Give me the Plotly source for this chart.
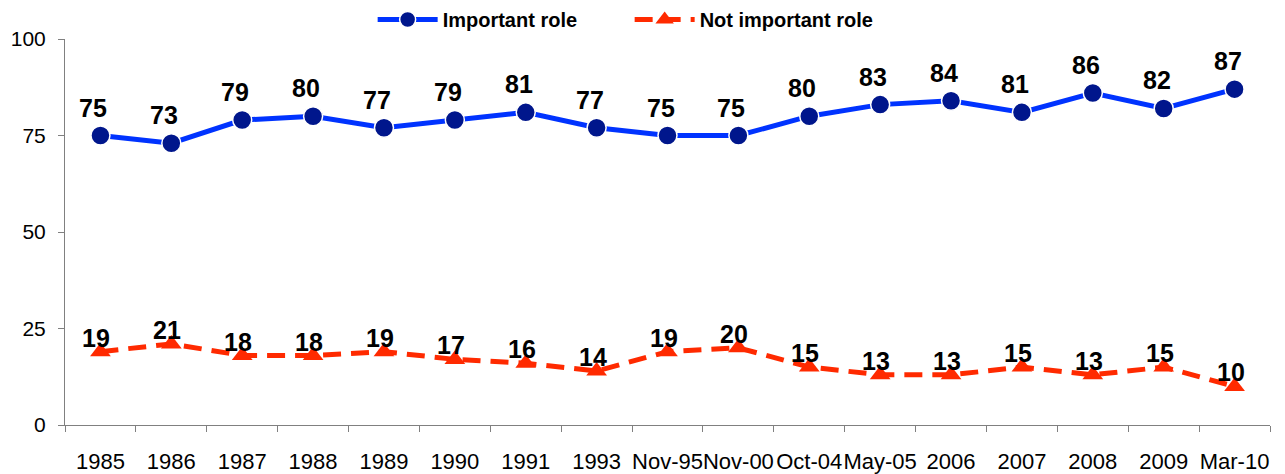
import plotly.graph_objects as go

periods = ["1985", "1986", "1987", "1988", "1989", "1990", "1991", "1993", "Nov-95",
           "Nov-00", "Oct-04", "May-05", "2006", "2007", "2008", "2009", "Mar-10"]
important = [75, 73, 79, 80, 77, 79, 81, 77, 75, 75, 80, 83, 84, 81, 86, 82, 87]
not_important = [19, 21, 18, 18, 19, 17, 16, 14, 19, 20, 15, 13, 13, 15, 13, 15, 10]

BLUE_LINE = "#0033FF"
BLUE_MARK = "#00168C"
RED = "#FF2A00"
AXIS = "#808080"
FONT = "Liberation Sans, Arial, sans-serif"
LABEL_FONT = dict(family=FONT, size=25, color="black")

fig = go.Figure()
fig.add_trace(go.Scatter(
    x=periods, y=important, name="<b>Important role</b>", mode="lines+markers",
    line=dict(color=BLUE_LINE, width=5),
    marker=dict(symbol="circle", size=19, color=BLUE_MARK, line=dict(color="white", width=1.5)),
))
fig.add_trace(go.Scatter(
    x=periods, y=not_important, name="<b>Not important role</b>", mode="lines+markers",
    line=dict(color=RED, width=5, dash="18px,10px"),
    marker=dict(symbol="triangle-up", size=18, color=RED),
))

# value labels above each point (category axis: x is the category index)
for i, v in enumerate(important):
    fig.add_annotation(x=i, y=v, text=f"<b>{v}</b>", showarrow=False,
                       xshift=-7, yshift=28, font=LABEL_FONT)
for i, v in enumerate(not_important):
    fig.add_annotation(x=i, y=v, text=f"<b>{v}</b>", showarrow=False,
                       xshift=-4, yshift=14, font=LABEL_FONT)

fig.update_layout(
    width=1285, height=474,
    margin=dict(l=65, r=15, t=38, b=49),
    paper_bgcolor="white", plot_bgcolor="white",
    font=dict(family=FONT, color="black", size=20),
    legend=dict(orientation="h", x=0.49, xanchor="center", y=1.0, yanchor="top",
                yref="container", xref="container",
                font=dict(family=FONT, size=20, color="black"), itemwidth=60,
                entrywidth=182, traceorder="normal", bgcolor="rgba(0,0,0,0)"),
    showlegend=True,
)

fig.update_xaxes(
    type="category", range=[-0.5, len(periods) - 0.5], showgrid=False, zeroline=False,
    showline=True, linecolor=AXIS, linewidth=1, tickangle=0, automargin=False,
    ticks="outside", ticklen=6, tickcolor=AXIS, tickson="boundaries",
    ticklabelstandoff=17, tickfont=dict(size=22, color="black"),
)
fig.update_yaxes(
    range=[0, 100], tickvals=[0, 25, 50, 75, 100], showgrid=False, zeroline=False,
    showline=True, linecolor=AXIS, linewidth=1, automargin=False,
    ticks="outside", ticklen=6, tickcolor=AXIS,
    ticklabelstandoff=8, tickfont=dict(size=21, color="black"),
)

# drop the page's default body margin so the figure sits at the window origin
fig.write_html("out.html", config={"displayModeBar": False},
               post_script="document.body.style.margin='0';")
